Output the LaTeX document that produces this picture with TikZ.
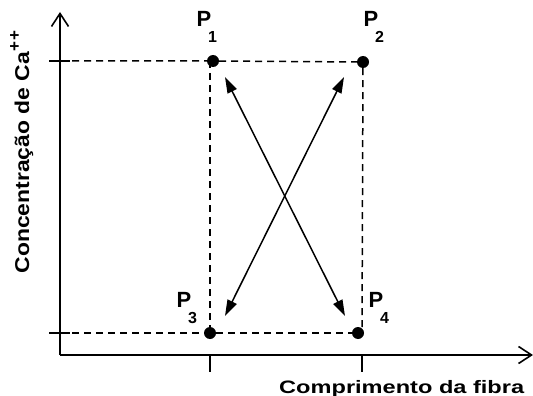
\documentclass[tikz,border=0pt]{standalone}
\usepackage{fontspec}
\setmainfont{Liberation Sans}
\usetikzlibrary{arrows.meta,positioning}

\newcommand{\plab}[1]{P\kern-3pt\raisebox{-16pt}{\fontsize{16}{16}\selectfont #1}}

\tikzset{
  dot/.style={circle, fill, inner sep=0pt, minimum size=12pt},
  lbl/.style={anchor=base west, inner sep=0pt, font=\bfseries\fontsize{22}{22}\selectfont},
  guide/.style={line width=1.5pt, dash pattern=on 7pt off 5pt},
  tick/.style={line width=1.6pt},
  axis/.style={line width=1.6pt, -{Straight Barb[length=13pt,width=17pt,line width=1.6pt]}},
  dbl/.style={line width=1.5pt, {Triangle[length=16pt,width=10pt]}-{Triangle[length=16pt,width=10pt]}}
}

\begin{document}
\begin{tikzpicture}[x=1pt,y=-1pt]
    \useasboundingbox (0,0) rectangle (533,396);

    % Axes
    \coordinate (o) at (60,355);
    \draw[axis] (o) -- (60,12);
    \draw[axis] (o) -- (533,355);

    % Ticks
    \draw[tick] (49,61) -- (70,61);
    \draw[tick] (49,333) -- (70,333);
    \draw[tick] (210,355) -- (210,372);
    \draw[tick] (362,355) -- (362,372);

    % Points
    \node[dot] (p1) at (213,61) {};
    \node[dot] (p2) at (363,62) {};
    \node[dot] (p3) at (210,333) {};
    \node[dot] (p4) at (358,333) {};

    % Dashed guides
    \draw[guide] (60,61) -- (p1) -- (p2);
    \draw[guide] (60,333) -- (p3) -- (p4);
    \draw[guide] (210,61) -- (p3);
    \draw[guide] (p2) -- (362,333);

    % Labels of points
    \node[lbl] (l1) at (196.3,27) {\plab{1}};
    \node[lbl] (l2) at (363.3,27) {\plab{2}};
    \node[lbl] (l3) at (176.3,307) {\plab{3}};
    \node[lbl] (l4) at (368.3,307) {\plab{4}};

    % Crossing arrows
    \coordinate (a1) at (225,77);
    \coordinate (a2) at (344,77);
    \coordinate (a3) at (225,316);
    \coordinate (a4) at (345,316);
    \draw[dbl] (a1) -- (a4);
    \draw[dbl] (a2) -- (a3);

    % Axis labels
    \node[anchor=base west, inner sep=0pt, font=\bfseries\fontsize{18}{18}\selectfont] (xlab) at (279,393)
        {\scalebox{1.31}[1]{Comprimento da fibra}};
    \node[anchor=base west, inner sep=0pt, rotate=90, font=\bfseries\fontsize{20}{20}\selectfont] (ylab) at (29,273.5)
        {\scalebox{1.145}[1]{Concentração de Ca}\raisebox{9pt}{\fontsize{17}{17}\selectfont +\kern1pt+}};
\end{tikzpicture}
\end{document}
